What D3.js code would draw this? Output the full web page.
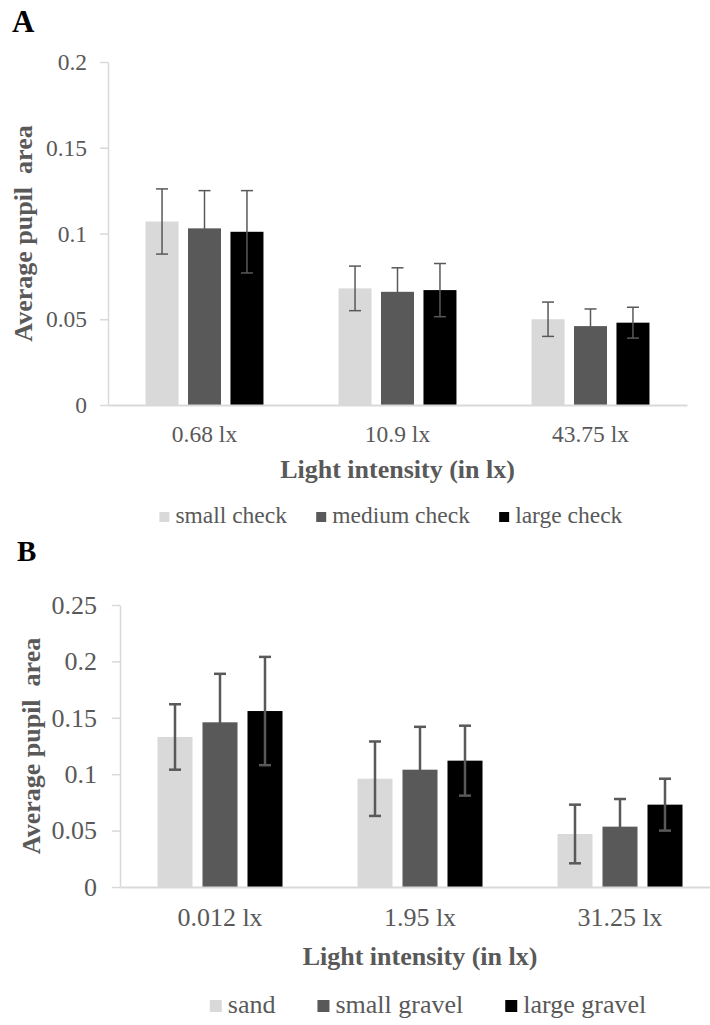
<!DOCTYPE html>
<html lang="en">
<head>
    <meta charset="UTF-8">
    <title>Average pupil area by light intensity</title>
    <script src="https://d3js.org/d3.v7.min.js"></script>
    <style>
        body {
            margin: 0;
            background: #fff;
        }
        svg text {
            font-family: "Liberation Serif", "Times New Roman", serif;
        }
    </style>
</head>
<body>
    <div id="chart"></div>

    <script>
        // ---- data ----
        const categoriesA = ["0.68 lx", "10.9 lx", "43.75 lx"];
        const seriesA = ["small check", "medium check", "large check"];
        const smallCheck = [0.107, 0.068, 0.050];
        const mediumCheck = [0.103, 0.066, 0.046];
        const largeCheck = [0.101, 0.067, 0.048];
        const smallCheckErr = [0.019, 0.013, 0.010];
        const mediumCheckErr = [0.022, 0.014, 0.010];
        const largeCheckErr = [0.024, 0.0155, 0.009];
        const ticksA = [0, 0.05, 0.1, 0.15, 0.2];

        const categoriesB = ["0.012 lx", "1.95 lx", "31.25 lx"];
        const seriesB = ["sand", "small gravel", "large gravel"];
        const sand = [0.133, 0.096, 0.047];
        const smallGravel = [0.146, 0.104, 0.0535];
        const largeGravel = [0.156, 0.112, 0.073];
        const sandErr = [0.029, 0.033, 0.026];
        const smallGravelErr = [0.043, 0.038, 0.0245];
        const largeGravelErr = [0.048, 0.031, 0.023];
        const ticksB = [0, 0.05, 0.1, 0.15, 0.2, 0.25];

        const colors = ["#d9d9d9", "#595959", "#000000"];
        const textColor = "#595959";

        const width = 710, height = 1025;
        const svg = d3.select("#chart").append("svg")
            .attr("width", width)
            .attr("height", height);

        function drawPanel(p) {
            const g = svg.append("g");

            const y = d3.scaleLinear().domain(p.yDomain).range([p.y0, p.y1]);
            const x0 = d3.scaleBand().domain(p.categories).range([p.xLeft, p.xRight]);
            const groupW = x0.bandwidth() * p.cluster;
            const x1 = d3.scaleBand().domain(p.series)
                .range([-groupW / 2, groupW / 2])
                .paddingInner(p.innerPad);

            // rows: one per category x series
            const rows = [];
            p.categories.forEach((c, i) => {
                p.series.forEach((s, j) => {
                    rows.push({ cat: c, ser: s, j: j, v: p.values[j][i], e: p.errors[j][i] });
                });
            });

            // y axis
            const yAxis = g.append("g")
                .attr("transform", `translate(${p.xLeft},0)`)
                .call(d3.axisLeft(y).tickValues(p.ticks).tickSize(8).tickSizeOuter(0)
                    .tickPadding(p.yTickPad).tickFormat(d3.format("")));
            yAxis.select(".domain").attr("stroke", "#d9d9d9").attr("stroke-width", 1.5);
            yAxis.selectAll(".tick line").attr("stroke", "#d9d9d9").attr("stroke-width", 1.5);
            yAxis.selectAll(".tick text")
                .attr("fill", textColor)
                .style("font-size", p.font + "px");

            // bars
            g.selectAll(".bar")
                .data(rows)
                .enter()
                .append("rect")
                .attr("class", "bar")
                .attr("x", d => x0(d.cat) + x0.bandwidth() / 2 + x1(d.ser))
                .attr("y", d => y(d.v))
                .attr("width", x1.bandwidth())
                .attr("height", d => y(0) - y(d.v))
                .attr("fill", d => colors[d.j]);

            // x axis
            const xAxis = g.append("g")
                .attr("transform", `translate(0,${p.y0})`)
                .call(d3.axisBottom(x0).tickSize(0).tickSizeOuter(0).tickPadding(p.xTickPad));
            xAxis.select(".domain").attr("stroke", "#d9d9d9").attr("stroke-width", 2);
            xAxis.selectAll(".tick text")
                .attr("fill", textColor)
                .style("font-size", p.font + "px");

            // error bars
            const cap = 6;
            const eb = g.selectAll(".err")
                .data(rows)
                .enter()
                .append("g")
                .attr("class", "err")
                .attr("transform", d => `translate(${x0(d.cat) + x0.bandwidth() / 2 + x1(d.ser) + x1.bandwidth() / 2},0)`)
                .attr("stroke", "#595959")
                .attr("stroke-width", p.errW);
            eb.append("line")
                .attr("y1", d => y(d.v - d.e))
                .attr("y2", d => y(d.v + d.e));
            eb.append("line")
                .attr("x1", -cap).attr("x2", cap)
                .attr("y1", d => y(d.v + d.e)).attr("y2", d => y(d.v + d.e));
            eb.append("line")
                .attr("x1", -cap).attr("x2", cap)
                .attr("y1", d => y(d.v - d.e)).attr("y2", d => y(d.v - d.e));

            // axis titles
            g.append("text")
                .attr("x", (p.xLeft + p.xRight) / 2)
                .attr("y", p.xTitleY)
                .attr("text-anchor", "middle")
                .attr("fill", textColor)
                .attr("font-weight", "bold")
                .style("font-size", "26px")
                .text("Light intensity (in lx)");

            g.append("text")
                .attr("transform", `translate(${p.yTitleX},${(p.y0 + p.y1) / 2}) rotate(-90)`)
                .attr("dy", "0.35em")
                .attr("text-anchor", "middle")
                .attr("fill", textColor)
                .attr("font-weight", "bold")
                .style("font-size", "26px")
                .style("white-space", "pre")
                .text("Average pupil  area");

            // panel letter
            g.append("text")
                .attr("x", p.labelX)
                .attr("y", p.labelY)
                .attr("font-weight", "bold")
                .style("font-size", p.labelSize + "px")
                .attr("fill", "#000")
                .text(p.label);

            // legend
            const leg = g.append("g");
            const items = leg.selectAll(".item")
                .data(p.series)
                .enter()
                .append("g")
                .attr("class", "item");
            items.append("rect")
                .attr("width", p.sw).attr("height", p.sw)
                .attr("y", p.legendY - p.sw - 1)
                .attr("fill", (d, i) => colors[i]);
            items.append("text")
                .attr("x", p.sw + 6)
                .attr("y", p.legendY)
                .attr("fill", textColor)
                .style("font-size", p.font + "px")
                .text(d => d);
            let cx = 0;
            items.each(function () {
                const w = this.getBBox().width;
                d3.select(this).attr("data-x", cx);
                cx += w + p.legendGap;
            });
            const total = cx - p.legendGap;
            const start = p.legendCx - total / 2;
            items.attr("transform", function () {
                return `translate(${start + (+this.getAttribute("data-x"))},0)`;
            });
        }

        drawPanel({
            label: "A", labelX: 12, labelY: 32, labelSize: 31,
            categories: categoriesA, series: seriesA,
            values: [smallCheck, mediumCheck, largeCheck],
            errors: [smallCheckErr, mediumCheckErr, largeCheckErr],
            ticks: ticksA, yDomain: [0, 0.2],
            y0: 405, y1: 62, xLeft: 108, xRight: 687,
            cluster: 0.611, innerPad: 0.223,
            font: 23.5, yTickPad: 13, xTickPad: 20, errW: 1.5,
            xTitleY: 478, yTitleX: 23,
            legendY: 523, legendCx: 391, legendGap: 29, sw: 10
        });

        drawPanel({
            label: "B", labelX: 17, labelY: 561, labelSize: 29,
            categories: categoriesB, series: seriesB,
            values: [sand, smallGravel, largeGravel],
            errors: [sandErr, smallGravelErr, largeGravelErr],
            ticks: ticksB, yDomain: [0, 0.25],
            y0: 887, y1: 605, xLeft: 120, xRight: 720,
            cluster: 0.625, innerPad: 0.222,
            font: 26, yTickPad: 15, xTickPad: 21, errW: 2.5,
            xTitleY: 965, yTitleX: 31,
            legendY: 1013, legendCx: 428, legendGap: 42, sw: 12
        });
    </script>
</body>
</html>
